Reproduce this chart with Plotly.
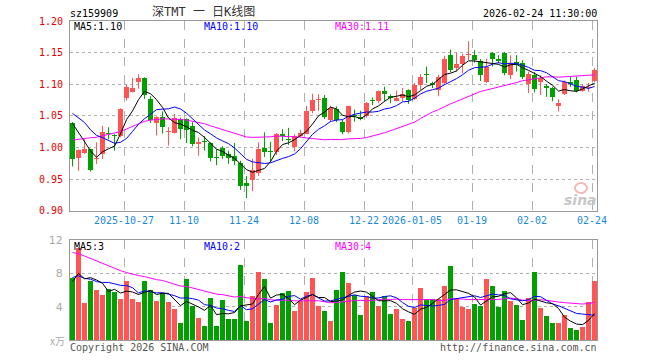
import plotly.graph_objects as go
import numpy as np

# ---------------- data ----------------
dates = [
    "2025-10-14", "2025-10-15", "2025-10-16", "2025-10-17", "2025-10-20", "2025-10-21", "2025-10-22", "2025-10-23", "2025-10-24",
    "2025-10-27", "2025-10-28", "2025-10-29", "2025-10-30", "2025-10-31", "2025-11-03", "2025-11-04", "2025-11-05", "2025-11-06", "2025-11-07",
    "2025-11-10", "2025-11-11", "2025-11-12", "2025-11-13", "2025-11-14", "2025-11-17", "2025-11-18", "2025-11-19", "2025-11-20", "2025-11-21",
    "2025-11-24", "2025-11-25", "2025-11-26", "2025-11-27", "2025-11-28", "2025-12-01", "2025-12-02", "2025-12-03", "2025-12-04", "2025-12-05",
    "2025-12-08", "2025-12-09", "2025-12-10", "2025-12-11", "2025-12-12", "2025-12-15", "2025-12-16", "2025-12-17", "2025-12-18", "2025-12-19",
    "2025-12-22", "2025-12-23", "2025-12-24", "2025-12-25", "2025-12-26", "2025-12-29", "2025-12-30", "2025-12-31",
    "2026-01-05", "2026-01-06", "2026-01-07", "2026-01-08", "2026-01-09", "2026-01-12", "2026-01-13", "2026-01-14", "2026-01-15", "2026-01-16",
    "2026-01-19", "2026-01-20", "2026-01-21", "2026-01-22", "2026-01-23", "2026-01-26", "2026-01-27", "2026-01-28", "2026-01-29", "2026-01-30",
    "2026-02-02", "2026-02-03", "2026-02-04", "2026-02-05", "2026-02-06", "2026-02-09", "2026-02-10", "2026-02-11", "2026-02-12", "2026-02-13",
    "2026-02-24",
]

opens = [1.039, 0.983, 0.991, 0.997, 0.981, 0.990, 1.022, 1.020, 1.018,
         1.078, 1.088, 1.104, 1.110, 1.076, 1.039, 1.048, 1.024, 1.023, 1.045,
         1.045, 1.034, 1.006, 1.010, 1.007, 0.985, 0.999, 0.990, 0.986, 0.975,
         0.944, 0.948, 0.960, 0.999, 0.995, 0.993, 1.021, 1.014, 1.000, 1.018,
         1.022, 1.058, 1.075, 1.079, 1.043, 1.061, 1.041, 1.024, 1.052, 1.048,
         1.049, 1.075, 1.074, 1.089, 1.082, 1.074, 1.078, 1.091,
         1.077, 1.099, 1.115, 1.102, 1.091, 1.102, 1.146, 1.125, 1.132, 1.147,
         1.146, 1.137, 1.104, 1.150, 1.140, 1.150, 1.115, 1.135, 1.134, 1.101,
         1.115, 1.104, 1.098, 1.094, 1.065, 1.085, 1.104, 1.106, 1.090, 1.094,
         1.105]
highs = [1.040, 0.997, 1.013, 0.998, 1.008, 1.034, 1.032, 1.021, 1.062,
         1.100, 1.110, 1.116, 1.111, 1.081, 1.049, 1.057, 1.032, 1.053, 1.047,
         1.046, 1.040, 1.016, 1.018, 1.008, 0.997, 1.002, 0.995, 1.007, 0.979,
         0.955, 0.982, 1.008, 1.024, 1.009, 1.023, 1.029, 1.031, 1.021, 1.028,
         1.066, 1.085, 1.084, 1.083, 1.066, 1.065, 1.044, 1.066, 1.060, 1.058,
         1.072, 1.079, 1.090, 1.096, 1.084, 1.090, 1.094, 1.092,
         1.102, 1.116, 1.128, 1.104, 1.115, 1.145, 1.155, 1.150, 1.148, 1.168,
         1.154, 1.140, 1.140, 1.151, 1.146, 1.151, 1.146, 1.146, 1.138, 1.120,
         1.119, 1.114, 1.100, 1.096, 1.076, 1.106, 1.112, 1.112, 1.100, 1.102,
         1.126]
lows = [0.970, 0.963, 0.990, 0.962, 0.974, 0.982, 1.013, 0.995, 1.016,
        1.074, 1.087, 1.093, 1.077, 1.039, 1.019, 1.022, 1.003, 1.022, 1.013,
        1.007, 1.002, 0.987, 0.995, 0.978, 0.972, 0.982, 0.974, 0.972, 0.933,
        0.920, 0.931, 0.955, 0.985, 0.977, 0.988, 1.010, 1.004, 0.994, 1.016,
        1.021, 1.054, 1.058, 1.045, 1.040, 1.040, 1.021, 1.022, 1.041, 1.043,
        1.047, 1.067, 1.070, 1.073, 1.070, 1.073, 1.073, 1.069,
        1.075, 1.091, 1.102, 1.094, 1.081, 1.099, 1.119, 1.120, 1.117, 1.138,
        1.134, 1.105, 1.102, 1.128, 1.133, 1.114, 1.108, 1.120, 1.108, 1.086,
        1.087, 1.083, 1.080, 1.073, 1.057, 1.083, 1.096, 1.087, 1.088, 1.088,
        1.103]
closes = [0.982, 0.996, 0.997, 0.964, 0.983, 1.025, 1.021, 1.018, 1.061,
          1.095, 1.094, 1.110, 1.083, 1.043, 1.048, 1.033, 1.026, 1.047, 1.030,
          1.028, 1.005, 1.008, 1.008, 0.983, 0.983, 0.986, 0.983, 0.978, 0.939,
          0.939, 0.965, 0.998, 0.993, 0.993, 1.021, 1.018, 1.012, 1.018, 1.023,
          1.057, 1.075, 1.077, 1.048, 1.062, 1.043, 1.025, 1.065, 1.050, 1.045,
          1.071, 1.074, 1.089, 1.085, 1.078, 1.079, 1.084, 1.075,
          1.099, 1.112, 1.114, 1.099, 1.112, 1.140, 1.122, 1.132, 1.144, 1.147,
          1.139, 1.115, 1.127, 1.140, 1.136, 1.118, 1.133, 1.131, 1.112, 1.116,
          1.092, 1.110, 1.094, 1.080, 1.070, 1.104, 1.100, 1.090, 1.098, 1.096,
          1.122]
volumes = [7.4, 11.0, 4.5, 7.1, 6.0, 5.4, 6.1, 5.8, 4.9,
           7.1, 4.9, 4.6, 7.1, 6.0, 4.7, 5.6, 4.6, 3.7, 2.0,
           7.3, 4.1, 2.7, 1.7, 5.0, 1.7, 4.8, 2.5, 2.5, 9.0,
           2.3, 5.3, 8.2, 7.3, 2.0, 4.2, 5.6, 5.9, 3.5, 4.7,
           5.8, 7.4, 4.1, 3.5, 2.3, 6.0, 8.2, 6.8, 5.4, 3.0,
           5.3, 5.8, 4.1, 5.3, 3.1, 3.7, 2.5, 2.3,
           3.8, 6.2, 4.8, 4.9, 4.9, 6.5, 8.9, 4.9, 4.0, 3.7,
           4.3, 4.1, 7.3, 6.5, 4.0, 5.9, 4.7, 4.2, 2.4, 5.0,
           8.2, 3.8, 2.9, 2.0, 2.0, 3.0, 1.4, 1.2, 1.6, 4.6,
           7.1]

# sessions before the window, estimated from where the moving averages start
pre_close = [0.950, 0.945, 0.952, 0.960, 0.958, 0.963, 0.970, 0.966, 0.972, 0.975,
             0.970, 0.978, 0.985, 1.000, 1.020, 1.035, 1.045, 1.050, 1.060, 1.058,
             1.065, 1.072, 1.080, 1.070, 1.062, 1.068, 1.060, 1.045, 1.035]
pre_vol = [15.0, 13.2, 16.1, 14.0, 12.5, 15.3, 16.8, 13.0, 14.0, 11.5,
           9.0, 10.8, 12.0, 9.5, 8.7, 11.2, 10.0, 9.3, 8.5, 9.5,
           9.0, 7.5, 8.2, 8.8, 6.5, 6.0, 7.8, 6.4, 7.4]

tick_dates = ["2025-10-27", "2025-11-10", "2025-11-24", "2025-12-08", "2025-12-22",
              "2026-01-05", "2026-01-19", "2026-02-02", "2026-02-24"]
tick_text = ["2025-10-27", "11-10", "11-24", "12-08", "12-22",
             "2026-01-05", "01-19", "02-02", "02-24"]
price_ticks = [0.90, 0.95, 1.00, 1.05, 1.10, 1.15, 1.20]
vol_ticks = [4, 8, 12]

symbol = "sz159909"
title = "深TMT\u00a0一\u00a0日K线图"
stamp = "2026-02-24 11:30:00"

# ---------------- helpers ----------------
UP = "#ff5555"
DOWN = "#00a000"
n = len(dates)
xs = list(range(n))
pad = len(pre_close)


def rolling(series, k):
    arr = np.array(series, dtype=float)
    return [float(arr[j - k + 1:j + 1].mean()) for j in range(pad, len(arr))]


ma_c = {k: rolling(pre_close + closes, k) for k in (5, 10, 30)}
ma_v = {k: rolling(pre_vol + volumes, k) for k in (5, 10, 30)}

colors = [UP if c >= o else DOWN for o, c in zip(opens, closes)]
body_base = [min(o, c) for o, c in zip(opens, closes)]
body_h = [max(abs(c - o), 0.0016) for o, c in zip(opens, closes)]

fig = go.Figure()

# wicks
for col in (UP, DOWN):
    wx, wy = [], []
    for i in range(n):
        if colors[i] == col:
            wx += [i, i, None]
            wy += [lows[i], highs[i], None]
    fig.add_trace(go.Scatter(x=wx, y=wy, mode="lines", line=dict(color=col, width=1),
                             hoverinfo="skip", xaxis="x", yaxis="y"))

# bodies
fig.add_trace(go.Bar(x=xs, y=body_h, base=body_base, width=0.82, marker=dict(color=colors, line=dict(width=0)),
                     xaxis="x", yaxis="y"))

ma_cols = {5: "#000000", 10: "#0000ff", 30: "#ff00ff"}
for k in (30, 10, 5):
    fig.add_trace(go.Scatter(x=xs, y=ma_c[k], mode="lines", line=dict(color=ma_cols[k], width=1),
                             xaxis="x", yaxis="y"))

# volume
fig.add_trace(go.Bar(x=xs, y=volumes, width=0.82, marker=dict(color=colors, line=dict(width=0)),
                     xaxis="x2", yaxis="y2"))
for k in (30, 10, 5):
    fig.add_trace(go.Scatter(x=xs, y=ma_v[k], mode="lines", line=dict(color=ma_cols[k], width=1),
                             xaxis="x2", yaxis="y2"))

tickvals = [dates.index(d) - 0.42 for d in tick_dates]
xr = [-0.42, n - 1 + 0.41]

# pixel helpers: plot area spans x 70..597, y 21..340
L, R, T, B = 70, 597, 21, 340


def px(xp):
    return (xp - L) / (R - L)


def py(yp):
    return (B - yp) / (B - T)


main_bottom = py(210.7)
vol_top = py(240)

mono = "DejaVu Sans Mono"
fig.update_layout(
    width=660, height=360,
    margin=dict(l=L, r=660 - R, t=T, b=360 - B, pad=0),
    paper_bgcolor="white", plot_bgcolor="white",
    showlegend=False, bargap=0, barmode="overlay", hovermode=False,
    xaxis=dict(domain=[0, 1], range=xr, anchor="y", tickvals=tickvals, ticktext=tick_text,
               showgrid=True, gridcolor="#b0b0b0", griddash="dash", gridwidth=1,
               showline=True, mirror=True, linecolor="#999999", linewidth=1,
               ticks="", tickfont=dict(family=mono, size=10, color="#1a8ad8"), zeroline=False),
    yaxis=dict(domain=[main_bottom, 1], range=[0.90, 1.20], anchor="x",
               tickvals=price_ticks, ticktext=["%.2f" % v for v in price_ticks],
               showgrid=True, gridcolor="#b0b0b0", griddash="dot", gridwidth=1,
               showline=True, mirror=True, linecolor="#999999", linewidth=1,
               ticks="", ticklabelstandoff=4, tickfont=dict(family=mono, size=10, color="#e60000"),
               zeroline=False),
    xaxis2=dict(domain=[0, 1], range=xr, anchor="y2", tickvals=tickvals, showticklabels=False,
                showgrid=True, gridcolor="#b0b0b0", griddash="dash", gridwidth=1,
                showline=True, mirror=True, linecolor="#999999", linewidth=1, ticks="", zeroline=False),
    yaxis2=dict(domain=[0, vol_top], range=[0, 12], anchor="x2",
                tickvals=vol_ticks, ticktext=[str(v) for v in vol_ticks],
                showgrid=True, gridcolor="#b0b0b0", griddash="dot", gridwidth=1,
                showline=True, mirror=True, linecolor="#999999", linewidth=1,
                ticks="", ticklabelstandoff=4, tickfont=dict(family="DejaVu Sans", size=11, color="#aaaaaa"),
                zeroline=False),
)

ann = []


def text(t, xpix, ypix, anchor="left", color="#000", size=10, family=mono, **kw):
    ann.append(dict(text=t, x=px(xpix), y=py(ypix), xref="paper", yref="paper",
                    xanchor=anchor, yanchor="middle", showarrow=False,
                    font=dict(family=family, size=size, color=color), borderpad=0, **kw))


text(symbol, 69, 13)
text(title, 203.5, 12, anchor="center", color="#333", size=12, family="DejaVu Sans Mono, Noto Sans CJK SC")
text(stamp, 598, 13, anchor="right")

text("MA5:%.2f" % ma_c[5][-1], 73, 27, color="#000000")
text("MA10:%.2f" % ma_c[10][-1], 203, 27, color="#0000ff")
text("MA30:%.2f" % ma_c[30][-1], 334, 27, color="#ff00ff")

text("MA5:%d" % int(ma_v[5][-1]), 73, 246, color="#000000")
text("MA10:%d" % int(ma_v[10][-1]), 203, 246, color="#0000ff")
text("MA30:%d" % int(ma_v[30][-1]), 334, 246, color="#ff00ff")

text("x万", 66, 340, anchor="right", color="#aaaaaa", size=10, family="Noto Sans CJK SC")
text("Copyright 2026 SINA.COM", 69, 347, color="#555555")
text("http://finance.sina.com.cn", 598, 347, anchor="right", color="#555555")

# sina watermark
text("<b><i>sina</i></b>", 580, 200, anchor="center", color="#c8c8c8", size=14, family="DejaVu Sans")
fig.update_layout(annotations=ann)
fig.add_shape(type="circle", xref="paper", yref="paper",
              x0=px(575), x1=px(587), y0=py(193), y1=py(183),
              line=dict(color="#f4b8b8", width=2))

fig.write_html("out.html", config={"displayModeBar": False, "staticPlot": True},
               post_script="document.body.style.margin='0';document.body.style.padding='0';")
